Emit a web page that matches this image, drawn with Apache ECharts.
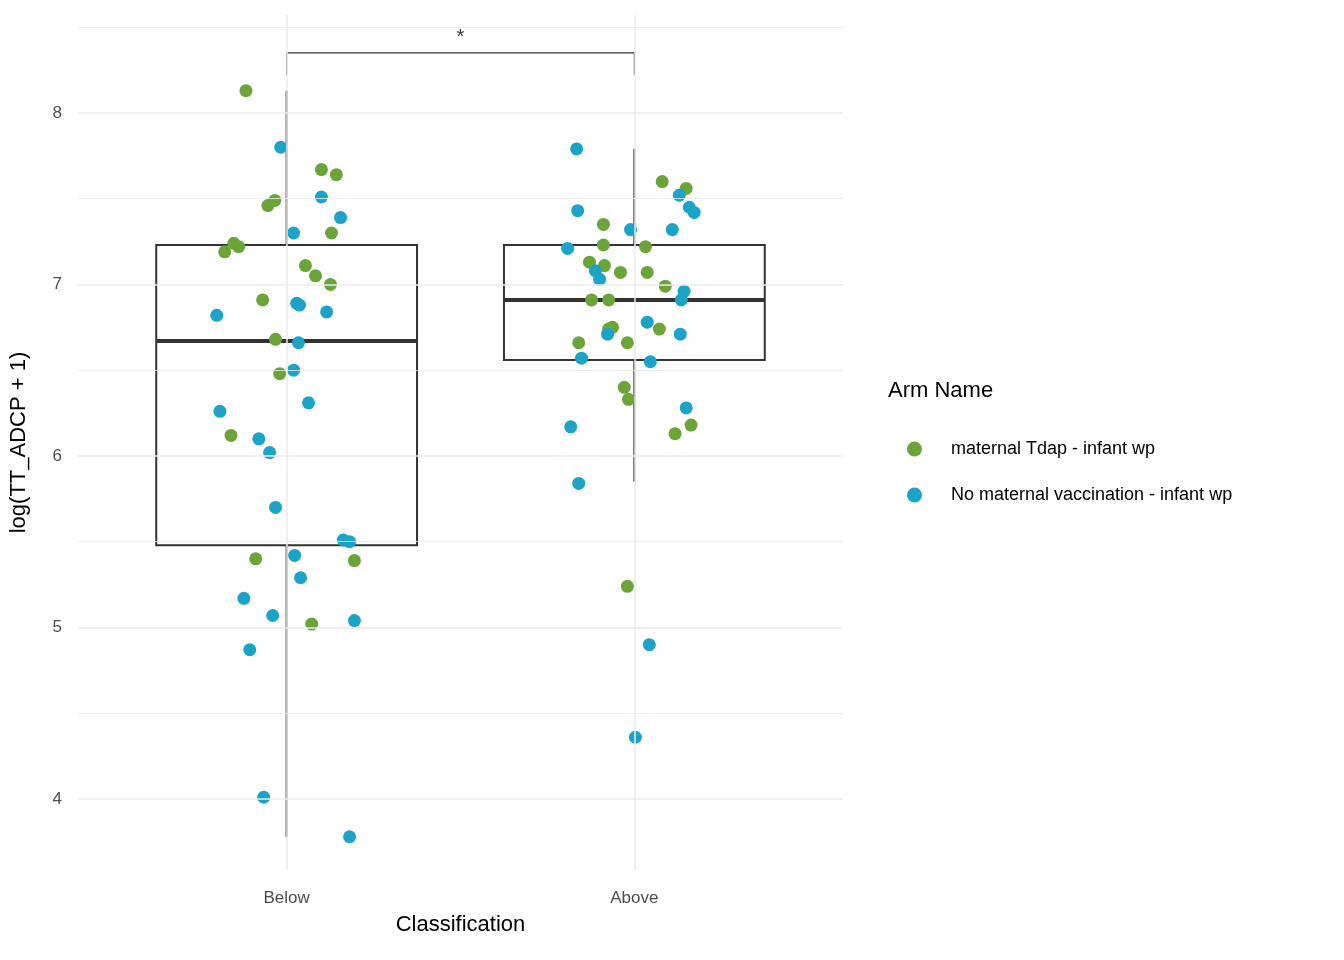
<!DOCTYPE html>
<html>
<head>
<meta charset="utf-8">
<script src="https://cdn.jsdelivr.net/npm/echarts@6/dist/echarts.min.js"></script>
<style>html,body{margin:0;background:#fff}#c{width:1344px;height:960px}</style>
</head>
<body>
<div id="c"></div>
<script>
const categories = ['Below', 'Above'];
const armNames = ['maternal Tdap - infant wp', 'No maternal vaccination - infant wp'];
const yTicks = [4, 5, 6, 7, 8];

// box stats: [position, lower whisker, q1, median, q3, upper whisker]
const boxStats = [
  [1, 3.78, 5.48, 6.67, 7.23, 8.13],
  [2, 5.85, 6.56, 6.91, 7.23, 7.79]
];

// jitter offsets (category units) and values
const belowGreenJit = [-0.117, 0.100, 0.143, -0.034, -0.054, -0.152, -0.138, -0.178, 0.129, 0.054, 0.083, 0.126, -0.069, -0.032, -0.020, -0.160, -0.089, 0.195, 0.072];
const belowGreenVal = [8.13, 7.67, 7.64, 7.49, 7.46, 7.24, 7.22, 7.19, 7.30, 7.11, 7.05, 7.00, 6.91, 6.68, 6.48, 6.12, 5.40, 5.39, 5.02];
const belowBlueJit = [-0.017, 0.100, 0.155, 0.020, 0.029, 0.037, 0.115, -0.201, 0.034, 0.020, 0.063, -0.192, -0.080, -0.049, -0.032, 0.163, 0.181, 0.023, 0.040, -0.123, -0.040, 0.195, -0.106, -0.066, 0.181];
const belowBlueVal = [7.80, 7.51, 7.39, 7.30, 6.89, 6.88, 6.84, 6.82, 6.66, 6.50, 6.31, 6.26, 6.10, 6.02, 5.70, 5.51, 5.50, 5.42, 5.29, 5.17, 5.07, 5.04, 4.87, 4.01, 3.78];
const aboveGreenJit = [0.080, 0.149, -0.089, -0.089, 0.032, -0.129, -0.086, -0.040, 0.037, 0.089, -0.123, -0.074, -0.063, -0.074, 0.072, -0.160, -0.020, -0.029, -0.017, 0.117, 0.163, -0.020];
const aboveGreenVal = [7.60, 7.56, 7.35, 7.23, 7.22, 7.13, 7.11, 7.07, 7.07, 6.99, 6.91, 6.91, 6.75, 6.74, 6.74, 6.66, 6.66, 6.40, 6.33, 6.13, 6.18, 5.24];
const aboveBlueJit = [-0.166, 0.129, -0.163, 0.158, 0.172, -0.011, 0.109, -0.192, -0.112, -0.100, 0.143, 0.135, 0.037, 0.132, -0.077, -0.152, 0.046, 0.149, -0.183, -0.160, 0.043, 0.003];
const aboveBlueVal = [7.79, 7.52, 7.43, 7.45, 7.42, 7.32, 7.32, 7.21, 7.08, 7.03, 6.96, 6.91, 6.78, 6.71, 6.71, 6.57, 6.55, 6.28, 6.17, 5.84, 4.90, 4.36];

const bracket = [[1, 8.22], [1, 8.35], [2, 8.35], [2, 8.22]];
const sigLabel = '*';

const GREEN = '#6ba539', BLUE = '#1ca3c8';

function pts(pos, jit, val) {
  return jit.map((j, i) => [pos + j, val[i]]);
}

const gridLines = [];
for (let v = 4; v <= 8.5; v += 0.5) gridLines.push({ yAxis: v, lineStyle: { type: 'solid', color: '#ebebeb', width: v % 1 === 0 ? 1.5 : 0.8 } });
[1, 2].forEach(v => gridLines.push({ xAxis: v, lineStyle: { type: 'solid', color: '#ebebeb', width: 1.5 } }));

const FONT = 'Liberation Sans';
const chart = echarts.init(document.getElementById('c'));
chart.setOption({
  animation: false,
  grid: { left: 78, right: 501, top: 15, bottom: 90 },
  xAxis: {
    type: 'value', min: 0.4, max: 2.6,
    name: 'Classification', nameLocation: 'middle', nameGap: 44,
    nameTextStyle: { fontSize: 22, color: '#000', fontFamily: FONT },
    axisLine: { show: false }, axisTick: { show: false }, splitLine: { show: false },
    axisLabel: { customValues: [1, 2], formatter: v => categories[Math.round(v) - 1] || '', fontSize: 17, color: '#4d4d4d', margin: 20, fontFamily: FONT }
  },
  yAxis: {
    type: 'value', min: 3.586, max: 8.571,
    name: 'log(TT_ADCP + 1)', nameLocation: 'middle', nameGap: 48,
    nameTextStyle: { fontSize: 22, color: '#000', fontFamily: FONT },
    axisLine: { show: false }, axisTick: { show: false }, splitLine: { show: false },
    axisLabel: { customValues: yTicks, fontSize: 17, color: '#4d4d4d', margin: 16, fontFamily: FONT }
  },
  legend: {
    data: armNames, orient: 'vertical', left: 902, top: 435, itemGap: 28,
    icon: 'circle', itemWidth: 15, itemHeight: 15,
    textStyle: { fontSize: 18, color: '#000', fontFamily: FONT, padding: [0, 0, 0, 24] }
  },
  graphic: [{ type: 'text', left: 888, top: 380, style: { text: 'Arm Name', fontSize: 22, fill: '#000', fontFamily: FONT } }],
  series: [
    {
      type: 'line', data: [], silent: true, z: 0,
      markLine: { symbol: 'none', silent: true, label: { show: false }, data: gridLines }
    },
    {
      type: 'custom', silent: true, z: 3,
      data: boxStats,
      renderItem: (params, api) => {
        const x = api.value(0), hw = 0.375;
        const p = k => api.coord([x, api.value(k)]);
        const l = api.coord([x - hw, api.value(2)])[0], r = api.coord([x + hw, api.value(2)])[0];
        const st = { stroke: '#333', lineWidth: 2, fill: 'rgba(0,0,0,0)' };
        return { type: 'group', children: [
          { type: 'line', shape: { x1: p(1)[0], y1: p(1)[1], x2: p(2)[0], y2: p(2)[1] }, style: st },
          { type: 'line', shape: { x1: p(4)[0], y1: p(4)[1], x2: p(5)[0], y2: p(5)[1] }, style: st },
          { type: 'rect', shape: { x: l, y: p(4)[1], width: r - l, height: p(2)[1] - p(4)[1] }, style: st },
          { type: 'line', shape: { x1: l, y1: p(3)[1], x2: r, y2: p(3)[1] }, style: { stroke: '#333', lineWidth: 4 } }
        ] };
      }
    },
    { name: armNames[0], type: 'scatter', z: 4, symbolSize: 13, itemStyle: { color: GREEN, opacity: 1 },
      data: pts(1, belowGreenJit, belowGreenVal).concat(pts(2, aboveGreenJit, aboveGreenVal)) },
    { name: armNames[1], type: 'scatter', z: 4, symbolSize: 13, itemStyle: { color: BLUE, opacity: 1 },
      data: pts(1, belowBlueJit, belowBlueVal).concat(pts(2, aboveBlueJit, aboveBlueVal)) },
    { type: 'line', data: bracket, symbol: 'none', silent: true, lineStyle: { color: '#000', width: 1 } },
    { type: 'scatter', data: [[1.5, 8.44]], symbolSize: 0, silent: true,
      label: { show: true, formatter: sigLabel, color: '#000', fontSize: 20, position: 'inside' } }
  ]
});
</script>
</body>
</html>
